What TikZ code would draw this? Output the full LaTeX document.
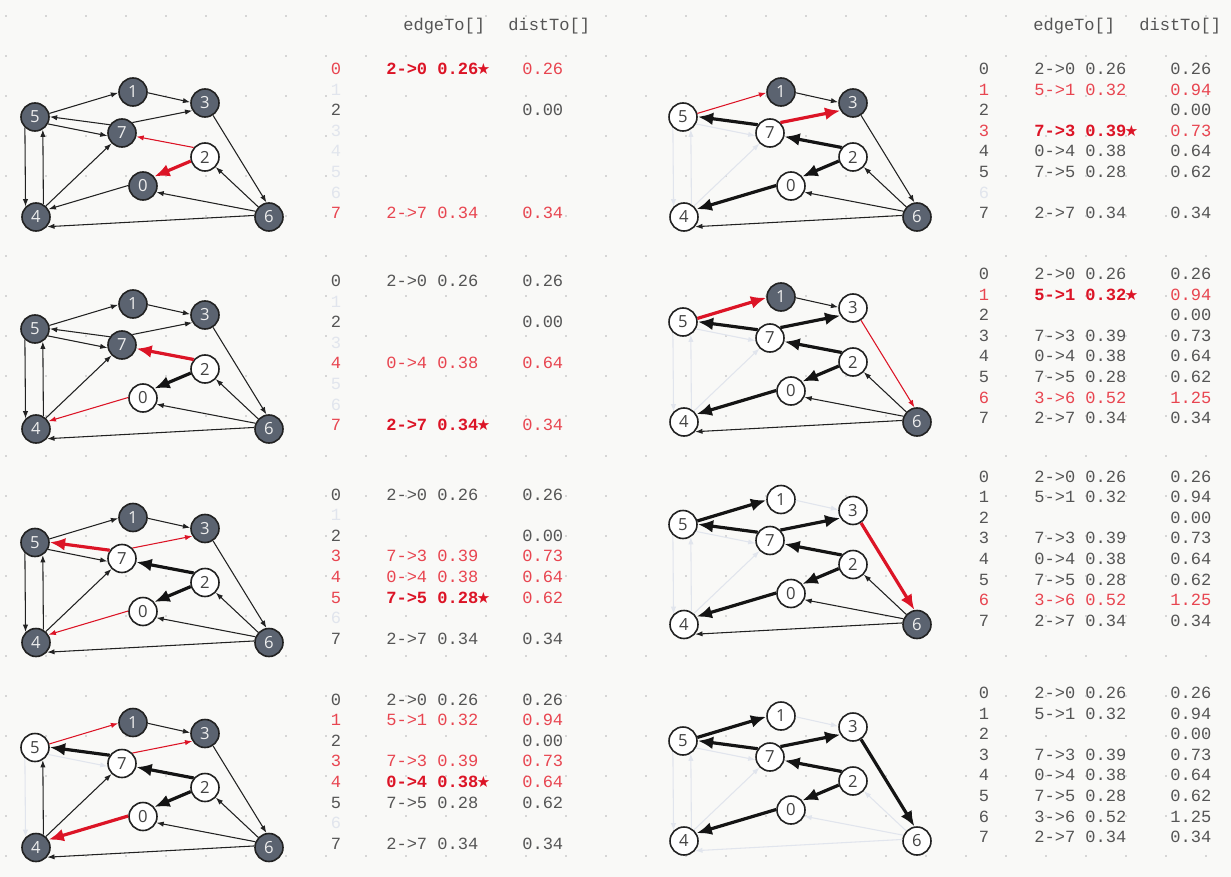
\documentclass[tikz,border=0pt]{standalone}
\usepackage{fontspec}
\setsansfont{Open Sans}
\setmonofont{Liberation Mono}
\newfontfamily\symfont{DejaVu Sans}
\usetikzlibrary{arrows.meta}

\definecolor{bgc}{HTML}{F9F9F7}
\definecolor{dotc}{HTML}{D6D6D6}
\definecolor{txtc}{HTML}{555555}
\definecolor{fadec}{HTML}{E1E5ED}
\definecolor{redl}{HTML}{E84550}
\definecolor{redb}{HTML}{DC1426}
\definecolor{nodefill}{HTML}{5B6370}
\definecolor{inkc}{HTML}{222222}

\newcommand{\pstar}{\makebox[0.6em]{\symfont\fontsize{11.5}{11.5}\selectfont ★}}

\tikzset{
  vtx/.style={circle, minimum size=21pt, inner sep=0pt, line width=1.2pt,
              font=\sffamily\fontsize{12.5}{12.5}\selectfont},
  vgray/.style={fill=nodefill, draw=inkc, text=white!93!black},
  vwhite/.style={fill=white, draw=inkc, text=inkc!85!white},
  eplain/.style={draw=inkc, line width=0.8pt, -{Latex[length=5.5pt,width=4pt]}},
  efade/.style={draw=fadec, line width=0.8pt, -{Latex[length=5.5pt,width=4pt]}},
  ered/.style={draw=redb, line width=0.8pt, -{Latex[length=5.5pt,width=4pt]}},
  etree/.style={draw=black!92, line width=2.4pt, -{Latex[length=11.5pt,width=9.5pt]}},
  ebold/.style={draw=redb, line width=2.4pt, -{Latex[length=11.5pt,width=9.5pt]}},
  cell/.style={font=\ttfamily\fontsize{12.8}{14}\selectfont, inner sep=0pt, anchor=base},
  rowplain/.style={text=txtc}, rowplain-e/.style={text=txtc},
  rowfade/.style={text=fadec},
  rowred/.style={text=redl}, rowred-e/.style={text=redl},
  rowpick/.style={text=redl},
  rowpick-e/.style={text=redb, font=\ttfamily\bfseries\fontsize{12.8}{14}\selectfont},
  % default state of every vertex and edge
  v0/.style=vgray, v1/.style=vgray, v2/.style=vgray, v3/.style=vgray,
  v4/.style=vgray, v5/.style=vgray, v6/.style=vgray, v7/.style=vgray,
  e51/.style=eplain, e13/.style=eplain, e75/.style=eplain, e57/.style=eplain,
  e73/.style=eplain, e54/.style=eplain, e45/.style=eplain, e47/.style=eplain,
  e27/.style=eplain, e20/.style=eplain, e04/.style=eplain, e62/.style=eplain,
  e60/.style=eplain, e64/.style=eplain, e36/.style=eplain
}

% one copy of the digraph, vertices named #1-0 ... #1-7
\newcommand{\drawgraph}[1]{%
  \node[vtx,v1] (#1-1) at (133,92) {1};
  \node[vtx,v3] (#1-3) at (205,103) {3};
  \node[vtx,v5] (#1-5) at (35,117) {5};
  \node[vtx,v7] (#1-7) at (122,133) {7};
  \node[vtx,v2] (#1-2) at (205,157) {2};
  \node[vtx,v0] (#1-0) at (143,186) {0};
  \node[vtx,v4] (#1-4) at (36,217) {4};
  \node[vtx,v6] (#1-6) at (269,217) {6};
  \draw[e51] (#1-5.14) -- (#1-1.183);
  \draw[e13] (#1-1.-3) -- (#1-3.177);
  \draw[e75] (#1-7.146) -- (#1-5.1);
  \draw[e57] (#1-5.-28) -- (#1-7.191);
  \draw[e73] (#1-7.45) -- (#1-3.211);
  \draw[e54] (#1-5.227) -- (#1-4.135);
  \draw[e45] (#1-4.60) -- (#1-5.-58);
  \draw[e47] (#1-4.48) -- (#1-7.225);
  \draw[e27] (#1-2.140) -- (#1-7.-14);
  \draw[e20] (#1-2.196) -- (#1-0.40);
  \draw[e04] (#1-0.178) -- (#1-4.32);
  \draw[e62] (#1-6) -- (#1-2);
  \draw[e60] (#1-6.157) -- (#1-0.-25);
  \draw[e64] (#1-6.174) -- (#1-4.-41);
  \draw[e36] (#1-3.-57) -- (#1-6.100);
}

% one table row: prefix, vertex, row style, edgeTo, distTo
\newcommand{\trow}[5]{%
  \node[cell,#3] (#1-i#2) at (336,{74.5+20.6*#2}) {#2};
  \ifx&#4&\else\node[cell,#3-e,anchor=base west] (#1-e#2) at (386,{74.5+20.6*#2}) {#4};\fi
  \ifx&#5&\else\node[cell,#3,anchor=base west] (#1-d#2) at (522,{74.5+20.6*#2}) {#5};\fi
}

\begin{document}
\begin{tikzpicture}[x=0.75pt,y=-0.75pt]

  \fill[bgc] (0,0) rectangle (1231,877);
  \useasboundingbox (0,0) rectangle (1231,877);

% grid dots
  \foreach \i in {0,...,30}
    \foreach \j in {0,...,21}
      \fill[dotc] ({5+40*\i},{15+40*\j}) rectangle +(2,2);

% column headers
  \node[cell,rowplain,anchor=base west] (hel) at (403,31) {edgeTo[]};
  \node[cell,rowplain,anchor=base west] (hdl) at (508,31) {distTo[]};
  \node[cell,rowplain,anchor=base west] (her) at (1033,31) {edgeTo[]};
  \node[cell,rowplain,anchor=base west] (hdr) at (1139,31) {distTo[]};

% relax 2
  \begin{scope}[shift={(0,0)}, v2/.style=vwhite, e27/.style=ered, e20/.style=ebold]
    \drawgraph{A}
    \trow{A}{0}{rowpick}{2->0 0.26\pstar}{0.26}
    \trow{A}{1}{rowfade}{}{}
    \trow{A}{2}{rowplain}{}{0.00}
    \trow{A}{3}{rowfade}{}{}
    \trow{A}{4}{rowfade}{}{}
    \trow{A}{5}{rowfade}{}{}
    \trow{A}{6}{rowfade}{}{}
    \trow{A}{7}{rowred}{2->7 0.34}{0.34}
  \end{scope}

% relax 0
  \begin{scope}[shift={(0,212)}, v2/.style=vwhite, v0/.style=vwhite,
                e20/.style=etree, e04/.style=ered, e27/.style=ebold]
    \drawgraph{B}
    \trow{B}{0}{rowplain}{2->0 0.26}{0.26}
    \trow{B}{1}{rowfade}{}{}
    \trow{B}{2}{rowplain}{}{0.00}
    \trow{B}{3}{rowfade}{}{}
    \trow{B}{4}{rowred}{0->4 0.38}{0.64}
    \trow{B}{5}{rowfade}{}{}
    \trow{B}{6}{rowfade}{}{}
    \trow{B}{7}{rowpick}{2->7 0.34\pstar}{0.34}
  \end{scope}

% relax 7
  \begin{scope}[shift={(0,425.5)}, v2/.style=vwhite, v0/.style=vwhite, v7/.style=vwhite,
                e20/.style=etree, e27/.style=etree, e04/.style=ered, e73/.style=ered,
                e75/.style=ebold]
    \drawgraph{C}
    \trow{C}{0}{rowplain}{2->0 0.26}{0.26}
    \trow{C}{1}{rowfade}{}{}
    \trow{C}{2}{rowplain}{}{0.00}
    \trow{C}{3}{rowred}{7->3 0.39}{0.73}
    \trow{C}{4}{rowred}{0->4 0.38}{0.64}
    \trow{C}{5}{rowpick}{7->5 0.28\pstar}{0.62}
    \trow{C}{6}{rowfade}{}{}
    \trow{C}{7}{rowplain}{2->7 0.34}{0.34}
  \end{scope}

% relax 5
  \begin{scope}[shift={(0,630.5)}, v2/.style=vwhite, v0/.style=vwhite, v7/.style=vwhite,
                v5/.style=vwhite, e20/.style=etree, e27/.style=etree, e75/.style=etree,
                e51/.style=ered, e73/.style=ered, e04/.style=ebold,
                e57/.style=efade, e54/.style=efade]
    \drawgraph{D}
    \trow{D}{0}{rowplain}{2->0 0.26}{0.26}
    \trow{D}{1}{rowred}{5->1 0.32}{0.94}
    \trow{D}{2}{rowplain}{}{0.00}
    \trow{D}{3}{rowred}{7->3 0.39}{0.73}
    \trow{D}{4}{rowpick}{0->4 0.38\pstar}{0.64}
    \trow{D}{5}{rowplain}{7->5 0.28}{0.62}
    \trow{D}{6}{rowfade}{}{}
    \trow{D}{7}{rowplain}{2->7 0.34}{0.34}
  \end{scope}

% relax 4
  \begin{scope}[shift={(648,0)}, v2/.style=vwhite, v0/.style=vwhite, v7/.style=vwhite,
                v5/.style=vwhite, v4/.style=vwhite,
                e20/.style=etree, e27/.style=etree, e75/.style=etree, e04/.style=etree,
                e51/.style=ered, e73/.style=ebold,
                e57/.style=efade, e54/.style=efade, e45/.style=efade, e47/.style=efade]
    \drawgraph{E}
    \trow{E}{0}{rowplain}{2->0 0.26}{0.26}
    \trow{E}{1}{rowred}{5->1 0.32}{0.94}
    \trow{E}{2}{rowplain}{}{0.00}
    \trow{E}{3}{rowpick}{7->3 0.39\pstar}{0.73}
    \trow{E}{4}{rowplain}{0->4 0.38}{0.64}
    \trow{E}{5}{rowplain}{7->5 0.28}{0.62}
    \trow{E}{6}{rowfade}{}{}
    \trow{E}{7}{rowplain}{2->7 0.34}{0.34}
  \end{scope}

% relax 3
  \begin{scope}[shift={(648,205)}, v2/.style=vwhite, v0/.style=vwhite, v7/.style=vwhite,
                v5/.style=vwhite, v4/.style=vwhite, v3/.style=vwhite,
                e20/.style=etree, e27/.style=etree, e75/.style=etree, e04/.style=etree,
                e73/.style=etree, e51/.style=ebold, e36/.style=ered,
                e57/.style=efade, e54/.style=efade, e45/.style=efade, e47/.style=efade]
    \drawgraph{F}
    \trow{F}{0}{rowplain}{2->0 0.26}{0.26}
    \trow{F}{1}{rowpick}{5->1 0.32\pstar}{0.94}
    \trow{F}{2}{rowplain}{}{0.00}
    \trow{F}{3}{rowplain}{7->3 0.39}{0.73}
    \trow{F}{4}{rowplain}{0->4 0.38}{0.64}
    \trow{F}{5}{rowplain}{7->5 0.28}{0.62}
    \trow{F}{6}{rowred}{3->6 0.52}{1.25}
    \trow{F}{7}{rowplain}{2->7 0.34}{0.34}
  \end{scope}

% relax 1
  \begin{scope}[shift={(648,407.5)}, v2/.style=vwhite, v0/.style=vwhite, v7/.style=vwhite,
                v5/.style=vwhite, v4/.style=vwhite, v3/.style=vwhite, v1/.style=vwhite,
                e20/.style=etree, e27/.style=etree, e75/.style=etree, e04/.style=etree,
                e73/.style=etree, e51/.style=etree, e36/.style=ebold,
                e57/.style=efade, e54/.style=efade, e45/.style=efade, e47/.style=efade,
                e13/.style=efade]
    \drawgraph{G}
    \trow{G}{0}{rowplain}{2->0 0.26}{0.26}
    \trow{G}{1}{rowplain}{5->1 0.32}{0.94}
    \trow{G}{2}{rowplain}{}{0.00}
    \trow{G}{3}{rowplain}{7->3 0.39}{0.73}
    \trow{G}{4}{rowplain}{0->4 0.38}{0.64}
    \trow{G}{5}{rowplain}{7->5 0.28}{0.62}
    \trow{G}{6}{rowred}{3->6 0.52}{1.25}
    \trow{G}{7}{rowplain}{2->7 0.34}{0.34}
  \end{scope}

% relax 6
  \begin{scope}[shift={(648,624)}, v0/.style=vwhite, v1/.style=vwhite, v2/.style=vwhite,
                v3/.style=vwhite, v4/.style=vwhite, v5/.style=vwhite, v6/.style=vwhite,
                v7/.style=vwhite,
                e20/.style=etree, e27/.style=etree, e75/.style=etree, e04/.style=etree,
                e73/.style=etree, e51/.style=etree, e36/.style=etree,
                e57/.style=efade, e54/.style=efade, e45/.style=efade, e47/.style=efade,
                e13/.style=efade, e62/.style=efade, e60/.style=efade, e64/.style=efade]
    \drawgraph{H}
    \trow{H}{0}{rowplain}{2->0 0.26}{0.26}
    \trow{H}{1}{rowplain}{5->1 0.32}{0.94}
    \trow{H}{2}{rowplain}{}{0.00}
    \trow{H}{3}{rowplain}{7->3 0.39}{0.73}
    \trow{H}{4}{rowplain}{0->4 0.38}{0.64}
    \trow{H}{5}{rowplain}{7->5 0.28}{0.62}
    \trow{H}{6}{rowplain}{3->6 0.52}{1.25}
    \trow{H}{7}{rowplain}{2->7 0.34}{0.34}
  \end{scope}

\end{tikzpicture}
\end{document}
